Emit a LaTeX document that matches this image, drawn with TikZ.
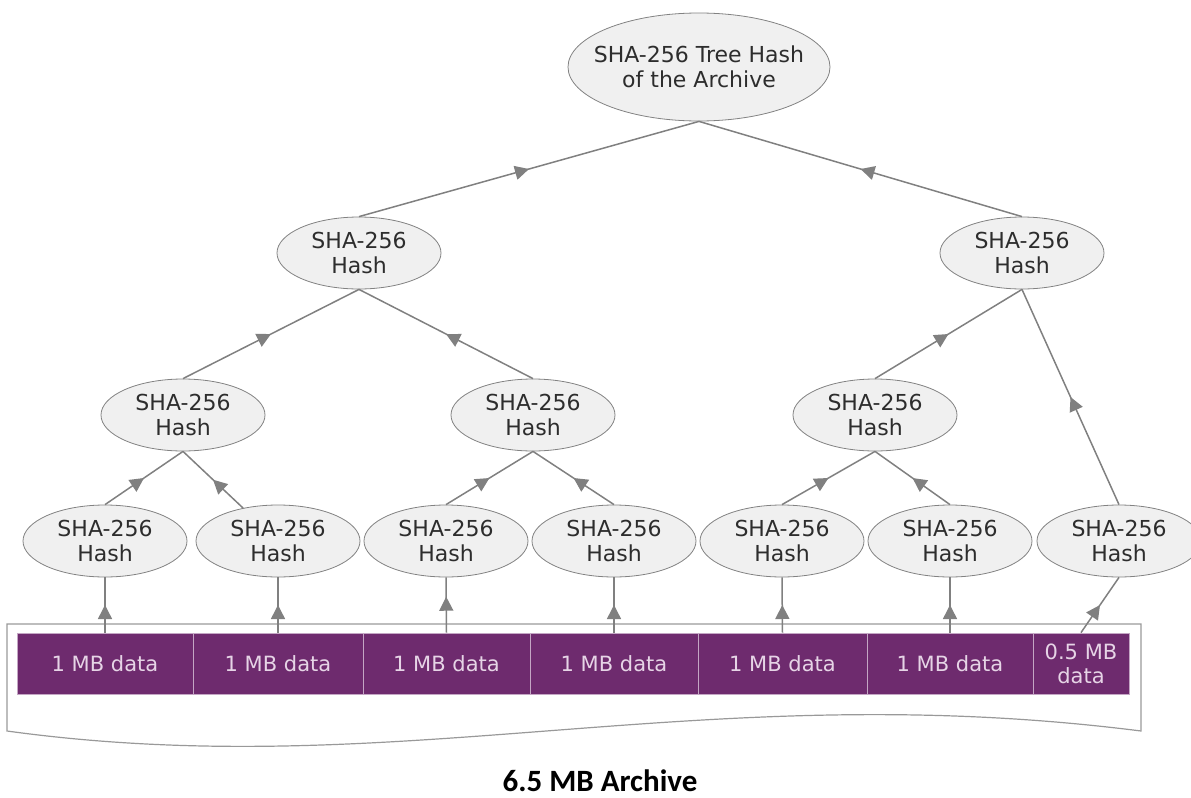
\documentclass[tikz,border=0pt]{standalone}
\usepackage{fontspec}
\setmainfont{DejaVu Sans}
\newfontfamily\titlefont{Carlito}
\usetikzlibrary{shapes.geometric,arrows.meta,decorations.markings}
\definecolor{edgegray}{RGB}{128,128,128}
\definecolor{hashfill}{RGB}{240,240,240}
\definecolor{hashline}{RGB}{130,130,130}
\definecolor{datafill}{RGB}{110,43,110}
\definecolor{dataline}{RGB}{196,166,196}
\definecolor{datatext}{RGB}{230,212,230}
\definecolor{txt}{RGB}{45,45,45}
\begin{document}
\begin{tikzpicture}[x=0.5pt,y=-0.5pt,
  hash/.style={draw=hashline, fill=hashfill, ellipse, inner sep=0pt, minimum width=82pt, minimum height=36pt, align=center, text=txt, font=\fontsize{11}{12.5}\selectfont},
  databox/.style={draw=dataline, fill=datafill, inner sep=0pt, minimum height=30.5pt, align=center, text=datatext, font=\fontsize{10.5}{12}\selectfont},
  edge/.style={color=edgegray, line width=0.75pt, postaction={decorate}, decoration={markings, mark=at position #1 with {\arrow{Triangle[length=7pt,width=7pt]}}}},
  edge/.default=0.5]
\useasboundingbox (0,0) rectangle (1191,798);

% archive frame
\draw[color=edgegray!80, line width=0.6pt] (7,624) -- (1141,624) -- (1141,731) .. controls (700,675) and (400,785) .. (7,731) -- cycle;

\node[hash, minimum width=131pt, minimum height=54pt, inner xsep=-7pt] (1) at (699,67) {SHA-256 Tree Hash\\of the Archive};
\node[hash] (2) at (359,253) {SHA-256\\Hash};
\node[hash] (3) at (1022,253) {SHA-256\\Hash};
\node[hash] (4) at (183,415) {SHA-256\\Hash};
\node[hash] (5) at (533,415) {SHA-256\\Hash};
\node[hash] (6) at (875,415) {SHA-256\\Hash};
\node[hash] (7) at (105,541) {SHA-256\\Hash};
\node[hash] (8) at (278,541) {SHA-256\\Hash};
\node[hash] (9) at (446,541) {SHA-256\\Hash};
\node[hash] (10) at (614,541) {SHA-256\\Hash};
\node[hash] (11) at (782,541) {SHA-256\\Hash};
\node[hash] (12) at (950,541) {SHA-256\\Hash};
\node[hash] (13) at (1119,541) {SHA-256\\Hash};

\node[databox, minimum width=88pt] (b1) at (105,663.5) {1 MB data};
\node[databox, minimum width=85pt] (b2) at (278,663.5) {1 MB data};
\node[databox, minimum width=83.5pt] (b3) at (446.5,663.5) {1 MB data};
\node[databox, minimum width=84pt] (b4) at (614,663.5) {1 MB data};
\node[databox, minimum width=84.5pt] (b5) at (782.5,663.5) {1 MB data};
\node[databox, minimum width=83pt] (b6) at (950,663.5) {1 MB data};
\node[databox, minimum width=48pt] (b7) at (1081,663.5) {0.5 MB\\data};

\path[draw,edge] (2.north) -- (1.south);
\path[draw,edge] (3.north) -- (1.south);
\path[draw,edge] (4.north) -- (2.south);
\path[draw,edge] (5.north) -- (2.south);
\path[draw,edge] (6.north) -- (3.south);
\path[draw,edge] (13.north) -- (3.south);
\path[draw,edge] (7.north) -- (4.south);
\path[draw,edge] (8) -- (4.south);
\path[draw,edge] (9.north) -- (5.south);
\path[draw,edge] (10.north) -- (5.south);
\path[draw,edge] (11.north) -- (6.south);
\path[draw,edge] (12.north) -- (6.south);

\path[draw,edge=0.5] (b1.north) -- (7.south);
\path[draw,edge=0.5] (b2.north) -- (8.south);
\path[draw,edge=0.65] (b3.north) -- (9.south);
\path[draw,edge=0.5] (b4.north) -- (10.south);
\path[draw,edge=0.5] (b5.north) -- (11.south);
\path[draw,edge=0.5] (b6.north) -- (12.south);
\path[draw,edge=0.5] (b7.north) -- (13.south);

\node[inner sep=0pt, font=\titlefont\bfseries\fontsize{15.5}{18}\selectfont] (title) at (600,781) {6.5 MB Archive};
\end{tikzpicture}
\end{document}
